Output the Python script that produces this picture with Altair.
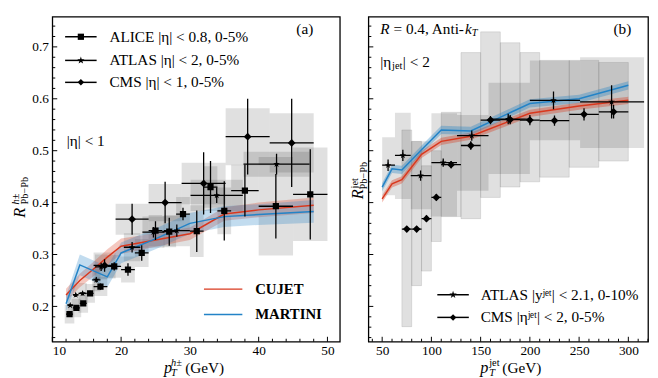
import altair as alt
import pandas as pd

FONT = "'Liberation Serif', 'Times New Roman', 'DejaVu Serif', serif"
STAR = ("M0,-1L0.2245,-0.309L0.951,-0.309L0.363,0.118L0.588,0.809L0,0.382"
        "L-0.588,0.809L-0.363,0.118L-0.951,-0.309L-0.2245,-0.309Z")
RED = "#d9381e"
BLUE = "#2383c7"

# ---------------- panel (a): charged hadrons ----------------
alice_pt = [12.5, 13.5, 14.5, 15.5, 17.0, 19.0, 21.0, 23.0, 25.0, 27.0, 29.0, 31.0, 33.0, 35.0, 38.0, 42.5, 47.5]
alice_r = [0.185, 0.197, 0.206, 0.225, 0.238, 0.277, 0.271, 0.303, 0.346, 0.344, 0.378, 0.345, 0.430, 0.384, 0.423, 0.393, 0.416]
alice_dx = [0.5, 0.5, 0.5, 0.5, 1, 1, 1, 1, 1, 1, 1, 1, 1, 1, 2, 2.5, 2.5]
alice_stat = [0.004, 0.004, 0.004, 0.005, 0.006, 0.008, 0.012, 0.015, 0.018, 0.027, 0.012, 0.04, 0.05, 0.057, 0.05, 0.062, 0.087]
alice_sys = [0.018, 0.018, 0.018, 0.018, 0.018, 0.022, 0.025, 0.027, 0.03, 0.03, 0.033, 0.05, 0.04, 0.045, 0.05, 0.095, 0.09]
alice_bw = [0.7, 0.7, 0.7, 0.7, 1, 1, 1, 1, 1, 1, 1, 1, 1, 1, 2, 2.5, 2.5]

atlas_pt = [12.6, 13.4, 14.4, 16.4, 17.1, 21.6, 24.7, 28.1, 33.9, 42.6]
atlas_r = [0.202, 0.222, 0.225, 0.251, 0.276, 0.314, 0.343, 0.346, 0.414, 0.474]
atlas_dx = [0.4, 0.4, 0.6, 0.6, 0.9, 1.2, 1.6, 1.9, 3.8, 4.8]
atlas_stat = [0.003, 0.004, 0.004, 0.005, 0.008, 0.01, 0.01, 0.012, 0.015, 0.02]
atlas_sys = [0.02, 0.02, 0.02, 0.022, 0.024, 0.027, 0.03, 0.03, 0.03, 0.024]

cms_pt = [17.6, 21.6, 26.4, 32.0, 38.4, 44.8]
cms_r = [0.279, 0.368, 0.400, 0.437, 0.527, 0.515]
cms_dx = [1.6, 2.4, 2.4, 3.2, 3.2, 3.2]
cms_stat = [0.012, 0.03, 0.04, 0.06, 0.073, 0.085]
cms_sys = [0.025, 0.03, 0.036, 0.04, 0.055, 0.057]

cujet_a_pt = [12, 14, 16, 18, 20, 25, 30, 35, 40, 48]
cujet_a_r = [0.222, 0.25, 0.272, 0.295, 0.316, 0.328, 0.34, 0.378, 0.386, 0.395]
cujet_a_err = [0.012, 0.013, 0.014, 0.015, 0.015, 0.013, 0.012, 0.013, 0.014, 0.015]
martini_a_pt = [12, 14, 18, 20, 25, 30, 35, 40, 48]
martini_a_r = [0.205, 0.28, 0.257, 0.303, 0.33, 0.36, 0.373, 0.377, 0.383]
martini_a_err = [0.015, 0.02, 0.02, 0.02, 0.02, 0.02, 0.02, 0.02, 0.022]

# ---------------- panel (b): jets ----------------
jatlas_pt = [56, 71, 89, 112, 141, 178, 224, 283]
jatlas_r = [0.472, 0.491, 0.452, 0.477, 0.529, 0.561, 0.597, 0.594]
jatlas_xlo = [50, 63, 79, 100, 126, 158, 200, 251]
jatlas_xhi = [63, 79, 100, 126, 158, 200, 251, 316]
jatlas_stat = [0.011, 0.011, 0.01, 0.008, 0.01, 0.01, 0.017, 0.032]
jatlas_blo = [0.414, 0.407, 0.387, 0.373, 0.423, 0.455, 0.52, 0.505]
jatlas_bhi = [0.526, 0.573, 0.518, 0.572, 0.569, 0.631, 0.674, 0.68]

jcms_pt = [75, 85, 95, 105, 120, 140, 160, 180, 200, 225, 255, 285]
jcms_r = [0.349, 0.349, 0.369, 0.41, 0.473, 0.51, 0.559, 0.56, 0.559, 0.558, 0.57, 0.575]
jcms_xlo = [70, 80, 90, 100, 110, 130, 150, 170, 190, 210, 240, 270]
jcms_xhi = [80, 90, 100, 110, 130, 150, 170, 190, 210, 240, 270, 300]
jcms_stat = [0.005, 0.005, 0.006, 0.006, 0.007, 0.008, 0.008, 0.009, 0.01, 0.01, 0.012, 0.013]
jcms_blo = [0.161, 0.24, 0.268, 0.325, 0.373, 0.369, 0.41, 0.43, 0.44, 0.449, 0.468, 0.48]
jcms_bhi = [0.54, 0.518, 0.471, 0.50, 0.574, 0.689, 0.729, 0.708, 0.689, 0.674, 0.674, 0.67]

cujet_b_pt = [50, 60, 70, 90, 110, 140, 200, 250, 300]
cujet_b_r = [0.407, 0.436, 0.444, 0.493, 0.518, 0.528, 0.572, 0.586, 0.597]
cujet_b_err = [0.007, 0.007, 0.007, 0.007, 0.007, 0.007, 0.007, 0.007, 0.007]
martini_b_pt = [50, 60, 70, 90, 110, 140, 200, 250, 300]
martini_b_r = [0.43, 0.465, 0.463, 0.502, 0.54, 0.538, 0.591, 0.600, 0.626]
martini_b_err = [0.008, 0.008, 0.008, 0.008, 0.008, 0.008, 0.008, 0.008, 0.008]

# ticks
y_major = [0.2, 0.3, 0.4, 0.5, 0.6, 0.7]
y_minor = [round(0.14 + 0.02 * i, 2) for i in range(31) if round(0.14 + 0.02 * i, 2) not in y_major]
xa_major = [10, 20, 30, 40, 50]
xa_minor = [v for v in range(12, 52, 2) if v not in xa_major]
xb_major = [50, 100, 150, 200, 250, 300]
xb_minor = [v for v in range(40, 330, 10) if v not in xb_major]

W_A, W_B, H = 292, 284, 330

ys = alt.Scale(domain=[0.132, 0.758], nice=False, zero=False)
xsa = alt.Scale(domain=[10, 51.8], nice=False, zero=False)
xsb = alt.Scale(domain=[36, 320], nice=False, zero=False)

lab = dict(ticks=False, domain=False, grid=False, labelFont=FONT, labelFontSize=13.5,
           labelColor="black", title=None)
ya_axis = alt.Axis(values=y_major, format=".1f", labelPadding=4, **lab)
yb_axis = alt.Axis(values=y_major, labels=False, **lab)
xa_axis = alt.Axis(values=xa_major, format="d", labelPadding=2, **lab)
xb_axis = alt.Axis(values=xb_major, format="d", labelPadding=2, **lab)


def XA(f):
    return alt.X(f"{f}:Q", scale=xsa, axis=xa_axis)


def XB(f):
    return alt.X(f"{f}:Q", scale=xsb, axis=xb_axis)


def YA(f):
    return alt.Y(f"{f}:Q", scale=ys, axis=ya_axis)


def YB(f):
    return alt.Y(f"{f}:Q", scale=ys, axis=yb_axis)


def sym_df(exp, pt, r, dx, stat, sys, bw):
    return pd.DataFrame({
        "exp": exp, "pt": pt, "r": r,
        "xlo": [p - d for p, d in zip(pt, dx)], "xhi": [p + d for p, d in zip(pt, dx)],
        "elo": [v - s for v, s in zip(r, stat)], "ehi": [v + s for v, s in zip(r, stat)],
        "blo": [v - s for v, s in zip(r, sys)], "bhi": [v + s for v, s in zip(r, sys)],
        "bxlo": [p - d for p, d in zip(pt, bw)], "bxhi": [p + d for p, d in zip(pt, bw)],
    })


def asym_df(exp, pt, r, xlo, xhi, stat, blo, bhi):
    return pd.DataFrame({
        "exp": exp, "pt": pt, "r": r, "xlo": xlo, "xhi": xhi,
        "elo": [v - s for v, s in zip(r, stat)], "ehi": [v + s for v, s in zip(r, stat)],
        "blo": blo, "bhi": bhi, "bxlo": xlo, "bxhi": xhi,
    })


df_a = pd.concat([
    sym_df("ALICE", alice_pt, alice_r, alice_dx, alice_stat, alice_sys, alice_bw),
    sym_df("ATLAS", atlas_pt, atlas_r, atlas_dx, atlas_stat, atlas_sys, atlas_dx),
    sym_df("CMS", cms_pt, cms_r, cms_dx, cms_stat, cms_sys, cms_dx),
], ignore_index=True)
df_b_atlas = asym_df("ATLAS", jatlas_pt, jatlas_r, jatlas_xlo, jatlas_xhi, jatlas_stat, jatlas_blo, jatlas_bhi)
df_b_cms = asym_df("CMS", jcms_pt, jcms_r, jcms_xlo, jcms_xhi, jcms_stat, jcms_blo, jcms_bhi)
df_b = pd.concat([df_b_atlas, df_b_cms], ignore_index=True)

shape_scale = alt.Scale(domain=["ALICE", "ATLAS", "CMS"], range=["square", STAR, "diamond"])
size_scale = alt.Scale(domain=["ALICE", "ATLAS", "CMS"], range=[40, 62, 44])

one = pd.DataFrame({"_": [0]})


def boxes(df, X, Y, stroke=False):
    kw = dict(color="black", fillOpacity=0.12, clip=True)
    if stroke:
        kw.update(stroke="black", strokeOpacity=0.13, strokeWidth=0.8)
    else:
        kw.update(strokeWidth=0)
    return alt.Chart(df).mark_rect(**kw).encode(x=X("bxlo"), x2="bxhi", y=Y("blo"), y2="bhi")


def bars_points(df, X, Y):
    v = alt.Chart(df).mark_rule(color="black", strokeWidth=1.3, clip=True).encode(
        x=X("pt"), y=Y("elo"), y2="ehi")
    h = alt.Chart(df).mark_rule(color="black", strokeWidth=1.3, clip=True).encode(
        x=X("xlo"), x2="xhi", y=Y("r"))
    p = alt.Chart(df).mark_point(filled=True, opacity=1, color="black", clip=True).encode(
        x=X("pt"), y=Y("r"),
        shape=alt.Shape("exp:N", scale=shape_scale, legend=None),
        size=alt.Size("exp:N", scale=size_scale, legend=None))
    return [v, h, p]


def theory(pt, r, err, color, X, Y, op):
    d = pd.DataFrame({"pt": pt, "r": r,
                      "lo": [a - e for a, e in zip(r, err)], "hi": [a + e for a, e in zip(r, err)]})
    band = alt.Chart(d).mark_area(color=color, opacity=op, clip=True).encode(x=X("pt"), y=Y("lo"), y2="hi")
    line = alt.Chart(d).mark_line(color=color, strokeWidth=1.5, clip=True).encode(x=X("pt"), y=Y("r"))
    return band, line


def ticks(xmaj, xmin, X, Y):
    out = []
    for vals, ln in ((y_major, 5), (y_minor, 3)):
        d = pd.DataFrame({"v": vals})
        out.append(alt.Chart(d).mark_rule(color="black", strokeWidth=1).encode(
            y=Y("v"), x=alt.value(0), x2=alt.value(ln)))
    for vals, ln in ((xmaj, 5), (xmin, 3)):
        d = pd.DataFrame({"v": vals})
        out.append(alt.Chart(d).mark_rule(color="black", strokeWidth=1).encode(
            x=X("v"), y=alt.value(H), y2=alt.value(H - ln)))
    return out


def T(s, x, y, size=15.5, style="normal", weight="normal", angle=0, align="left", baseline="middle"):
    return alt.Chart(one).mark_text(text=s, font=FONT, fontSize=size, fontStyle=style, fontWeight=weight,
                                    angle=angle, align=align, baseline=baseline, color="black").encode(
        x=alt.value(x), y=alt.value(y))


def leg_line(x1, x2, y, color="black", w=1.5):
    return alt.Chart(one).mark_rule(color=color, strokeWidth=w).encode(
        x=alt.value(x1), x2=alt.value(x2), y=alt.value(y))


def leg_marker(shape, size, x, y):
    return alt.Chart(one).mark_point(shape=shape, size=size, filled=True, opacity=1, color="black").encode(
        x=alt.value(x), y=alt.value(y))


# ---------------- build panel (a) ----------------
ca_band, ca_line = theory(cujet_a_pt, cujet_a_r, cujet_a_err, RED, XA, YA, 0.28)
ma_band, ma_line = theory(martini_a_pt, martini_a_r, martini_a_err, BLUE, XA, YA, 0.28)

legend_a_labels = ["ALICE |η| < 0.8, 0-5%", "ATLAS |η| < 2, 0-5%", "CMS |η| < 1, 0-5%"]
legend_a_shapes = [("square", 40), (STAR, 62), ("diamond", 44)]
legend_a_rows = [20.3, 44.3, 66.6]
leg_a = []
for lbl, (shp, sz), ry in zip(legend_a_labels, legend_a_shapes, legend_a_rows):
    leg_a += [leg_line(13, 45, ry), leg_marker(shp, sz, 29, ry), T(lbl, 58, ry)]

model_labels = ["CUJET", "MARTINI"]
leg_m = []
for lbl, col, ry in zip(model_labels, [RED, BLUE], [276.6, 302.3]):
    leg_m += [leg_line(154, 193, ry, col, 1.5), T(lbl, 206, ry, size=15, weight="bold")]

texts_a = [
    T("(a)", 265, 12.3, align="right"),
    T("|η| < 1", 14.7, 126.3),
    # y title
    T("R", -28, 204, size=16.5, style="italic", angle=270, align="left", baseline="alphabetic"),
    T("Pb−Pb", -24.7, 190.6, size=10.5, angle=270, align="left", baseline="alphabetic"),
    T("h±", -33.7, 190.6, size=10.5, style="italic", angle=270, align="left", baseline="alphabetic"),
    # x title
    T("p", 113.5, 361.8, size=16.5, style="italic", baseline="alphabetic"),
    T("T", 120.5, 364.8, size=10.5, style="italic", baseline="alphabetic"),
    T("h±", 120.5, 354.3, size=10.5, style="italic", baseline="alphabetic"),
    T("(GeV)", 135, 361.8, size=15.5, baseline="alphabetic"),
]

left = alt.layer(
    boxes(df_a, XA, YA),
    ca_band, ma_band, ca_line, ma_line,
    *bars_points(df_a, XA, YA),
    *ticks(xa_major, xa_minor, XA, YA),
    *leg_a, *leg_m, *texts_a,
).properties(width=W_A, height=H)

# ---------------- build panel (b) ----------------
cb_band, cb_line = theory(cujet_b_pt, cujet_b_r, cujet_b_err, RED, XB, YB, 0.35)
mb_band, mb_line = theory(martini_b_pt, martini_b_r, martini_b_err, BLUE, XB, YB, 0.35)

legend_b_labels = ["ATLAS |yʲᵉᵗ| < 2.1, 0-10%", "CMS |ηʲᵉᵗ| < 2, 0-5%"]
legend_b_shapes = [(STAR, 62), ("diamond", 44)]
legend_b_rows = [282.3, 305.3]
leg_b = []
for lbl, (shp, sz), ry in zip(legend_b_labels, legend_b_shapes, legend_b_rows):
    leg_b += [leg_line(70, 102, ry), leg_marker(shp, sz, 86, ry), T(lbl, 114, ry)]

texts_b = [
    T("R", 12, 12.3, style="italic"),
    T("= 0.4, Anti-", 25.5, 12.3),
    T("k", 98, 12.3, style="italic"),
    T("T", 105, 16.5, size=10.5, style="italic"),
    T("(b)", 267, 12.3, align="right"),
    T("|η", 12, 45.5),
    T("jet", 24, 50, size=10.5),
    T("| < 2", 35, 45.5),
    # y title
    T("R", -5, 185.3, size=16.5, style="italic", angle=270, baseline="alphabetic"),
    T("Pb−Pb", -1, 175.3, size=10.5, angle=270, baseline="alphabetic"),
    T("jet", -11, 174.3, size=10.5, angle=270, baseline="alphabetic"),
    # x title
    T("p", 113.7, 361.8, size=16.5, style="italic", baseline="alphabetic"),
    T("T", 122.7, 364.8, size=10.5, style="italic", baseline="alphabetic"),
    T("jet", 122.7, 354.3, size=10.5, baseline="alphabetic"),
    T("(GeV)", 136, 361.8, size=15.5, baseline="alphabetic"),
]

right = alt.layer(
    boxes(df_b_cms, XB, YB, stroke=True),
    boxes(df_b_atlas, XB, YB),
    cb_band, mb_band, cb_line, mb_line,
    *bars_points(df_b, XB, YB),
    *ticks(xb_major, xb_minor, XB, YB),
    *leg_b, *texts_b,
).properties(width=W_B, height=H)

chart = alt.hconcat(left, right, spacing=29, bounds="flush").properties(
    padding={"left": 2, "top": 5, "right": 0, "bottom": 0}
).configure_view(stroke="black", strokeWidth=1.3)

chart.save("out.html", embed_options={"renderer": "svg", "actions": False})
